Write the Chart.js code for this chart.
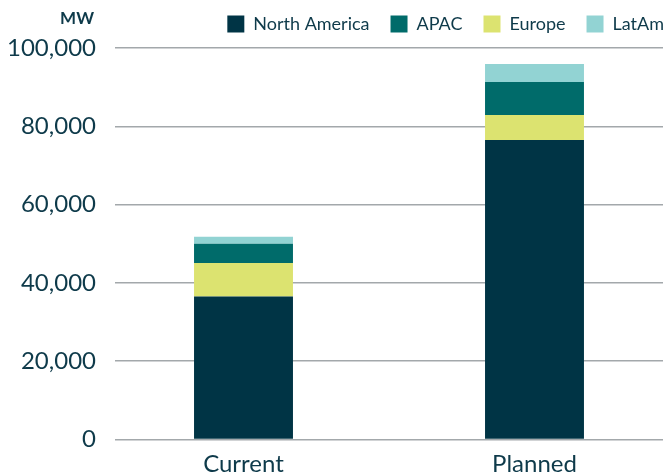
<!DOCTYPE html>
<html>
<head>
<meta charset="utf-8">
<script src="https://cdn.jsdelivr.net/npm/chart.js@4.4.1/dist/chart.umd.min.js"></script>
<style>
  html, body { margin: 0; padding: 0; background: #ffffff; }
  #wrap { width: 665px; height: 474px; position: relative; }
</style>
</head>
<body>
<div id="wrap"><canvas id="c" width="665" height="474"></canvas></div>
<script>
// ---- data ----
const categories = ['Current', 'Planned'];
const northAmerica = [36500, 76500];
const europe = [8600, 6400];
const apac = [4900, 8400];
const latAm = [1800, 4600];
const yTicks = [0, 20000, 40000, 60000, 80000, 100000];
const legendOrder = ['North America', 'APAC', 'Europe', 'LatAm'];
const unitLabel = 'MW';

const TEXT = '#0e3a4a';
const FONT = 'Lato, "Open Sans", sans-serif';

function pts(arr) { return arr.map((v, i) => ({ x: i, y: v })); }

const datasets = [
  { label: 'North America', data: pts(northAmerica), backgroundColor: '#003445' },
  { label: 'Europe', data: pts(europe), backgroundColor: '#dce370' },
  { label: 'APAC', data: pts(apac), backgroundColor: '#006b6a' },
  { label: 'LatAm', data: pts(latAm), backgroundColor: '#92d3d3' }
].map(d => Object.assign(d, { barPercentage: 0.34, categoryPercentage: 1, borderWidth: 0 }));

const unitPlugin = {
  id: 'unitLabel',
  afterLayout(chart) {
    // nudge the legend to sit at the top-right corner
    const L = chart.legend;
    L.left += 22; L.right += 22;
    L.top -= 5; L.bottom -= 5;
  },
  afterDraw(chart) {
    const ctx = chart.ctx;
    ctx.save();
    ctx.font = 'bold 17px ' + FONT;
    ctx.fillStyle = TEXT;
    ctx.textAlign = 'right';
    ctx.textBaseline = 'middle';
    ctx.fillText(unitLabel, chart.scales.y.right - 21, 19);
    ctx.restore();
  }
};

new Chart(document.getElementById('c'), {
  type: 'bar',
  data: { datasets },
  plugins: [unitPlugin],
  options: {
    responsive: false,
    animation: false,
    layout: { padding: { right: 2, top: -1 } },
    plugins: {
      tooltip: { enabled: false },
      legend: {
        position: 'top',
        align: 'end',
        labels: {
          color: TEXT,
          font: { family: FONT, size: 18 },
          boxWidth: 17,
          boxHeight: 17,
          padding: 21,
          sort: (a, b) => legendOrder.indexOf(a.text) - legendOrder.indexOf(b.text)
        }
      }
    },
    scales: {
      x: {
        type: 'linear',
        stacked: true,
        offset: false,
        min: -0.4416,
        max: 1.4416,
        afterBuildTicks: (s) => { s.ticks = categories.map((c, i) => ({ value: i })); },
        afterFit: (s) => { s.height = 34.5; },
        grid: { display: false },
        border: { display: false },
        ticks: {
          color: TEXT,
          font: { family: FONT, size: 24 },
          padding: 2,
          callback: (v) => categories[v]
        }
      },
      y: {
        stacked: true,
        min: 0,
        max: 100000,
        afterBuildTicks: (s) => { s.ticks = yTicks.map(v => ({ value: v })); },
        afterFit: (s) => { s.width = 115; },
        grid: { color: '#a3a8ab', lineWidth: 1.5, drawTicks: false },
        border: { display: false },
        ticks: {
          color: TEXT,
          font: { family: FONT, size: 24 },
          padding: 19,
          callback: (v) => v.toLocaleString('en-US')
        }
      }
    }
  }
});
</script>
</body>
</html>
